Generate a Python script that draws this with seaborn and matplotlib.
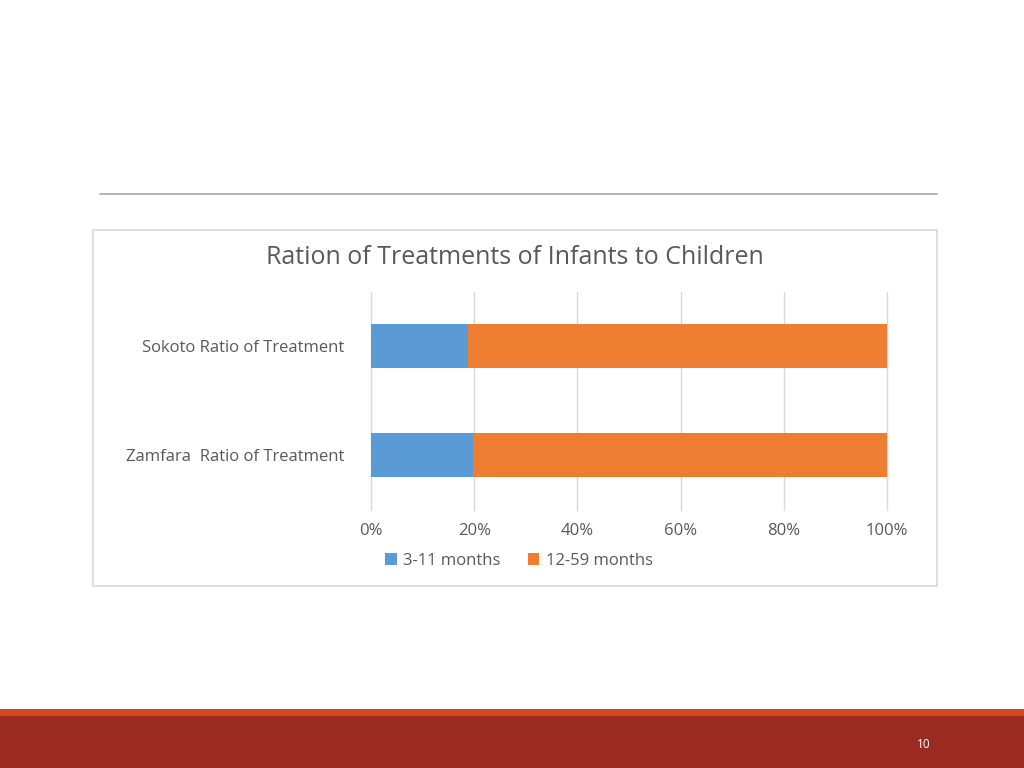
import matplotlib
matplotlib.use("Agg")
import matplotlib.pyplot as plt
from matplotlib.patches import Rectangle
import seaborn as sns
import pandas as pd

sns.set_theme(style="white")
plt.rcParams['font.family'] = ['Open Sans', 'DejaVu Sans']

categories = ["Sokoto Ratio of Treatment", "Zamfara  Ratio of Treatment"]
infants_pct = [18.8, 19.8]      # 3-11 months
children_pct = [81.2, 80.2]     # 12-59 months
series_names = ["3-11 months", "12-59 months"]
tick_labels = ["0%", "20%", "40%", "60%", "80%", "100%"]
title = "Ration of Treatments of Infants to Children"

blue = "#5B9BD5"
orange = "#ED7D31"
grey_txt = "#595959"

W, H = 1024, 768
fig = plt.figure(figsize=(W / 100, H / 100), dpi=100)
fig.patch.set_facecolor("white")

def fx(x): return x / W
def fy(y): return 1 - y / H

# slide decorations
fig.add_artist(plt.Line2D([fx(100), fx(937)], [fy(194), fy(194)], color="#A6A6A6", lw=1.2))
fig.add_artist(Rectangle((fx(93), fy(586)), fx(937) - fx(93), fy(230) - fy(586),
                         fill=False, edgecolor="#D9D9D9", lw=1.2))
fig.add_artist(Rectangle((0, 0), 1, fy(716), facecolor="#9B2B20", edgecolor="none"))
fig.add_artist(Rectangle((0, fy(716)), 1, fy(709) - fy(716), facecolor="#D04A1E", edgecolor="none"))
fig.text(fx(924), fy(744), "10", color="white", fontsize=8.5, ha="center", va="center")

df = pd.DataFrame({"cat": categories,
                   "infants": infants_pct,
                   "total": [a + b for a, b in zip(infants_pct, children_pct)]})

ax = fig.add_axes([fx(371), fy(509.5), fx(887) - fx(371), fy(291.5) - fy(509.5)])
sns.barplot(data=df, y="cat", x="total", color=orange, orient="h", width=0.40,
            saturation=1, ax=ax, label=series_names[1], zorder=2)
sns.barplot(data=df, y="cat", x="infants", color=blue, orient="h", width=0.40,
            saturation=1, ax=ax, label=series_names[0], zorder=3)
for p in ax.patches:
    p.set_edgecolor("none")

ax.set_xlim(0, 100)
ax.set_ylim(1.5, -0.5)
ax.set_xticks([0, 20, 40, 60, 80, 100])
ax.set_xticklabels(tick_labels, color=grey_txt, fontsize=12)
ax.tick_params(axis="x", length=0, pad=10)
ax.tick_params(axis="y", length=0, pad=19, labelsize=12, labelcolor=grey_txt)
ax.set_xlabel("")
ax.set_ylabel("")
ax.grid(False)
for v in [0, 20, 40, 60, 80, 100]:
    ax.axvline(v, color="#D9D9D9", lw=1, zorder=1, clip_on=False)
for s in ax.spines.values():
    s.set_visible(False)

handles, labels = ax.get_legend_handles_labels()
order = [labels.index(series_names[0]), labels.index(series_names[1])]
leg = fig.legend([handles[i] for i in order], [labels[i] for i in order],
                 loc="center", bbox_to_anchor=(fx(519), fy(561)), ncol=2, frameon=False,
                 fontsize=12, handlelength=0.7, handleheight=0.7, columnspacing=1.6,
                 handletextpad=0.4)
for t in leg.get_texts():
    t.set_color(grey_txt)
if ax.legend_:
    ax.legend_.remove()

fig.text(fx(515), fy(257), title, ha="center", va="center", fontsize=18, color=grey_txt)

fig.savefig("out.png", dpi=100, facecolor="white")
